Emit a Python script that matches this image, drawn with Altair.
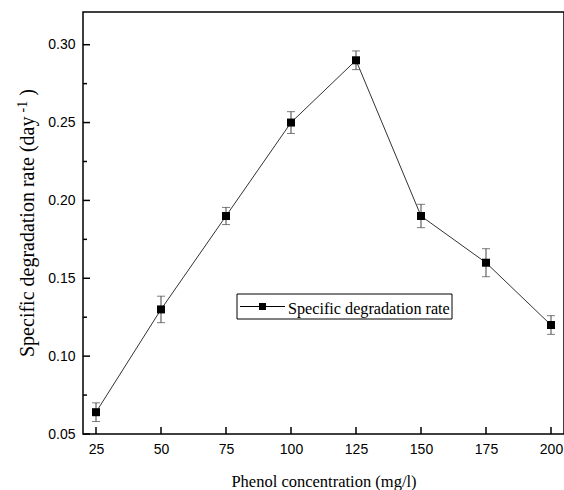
import altair as alt
import pandas as pd

# Specific degradation rate vs. phenol concentration
conc = [25, 50, 75, 100, 125, 150, 175, 200]
rate = [0.064, 0.130, 0.190, 0.250, 0.290, 0.190, 0.160, 0.120]
err = [0.006, 0.0085, 0.0055, 0.007, 0.006, 0.0075, 0.009, 0.006]

x_ticks = [25, 50, 75, 100, 125, 150, 175, 200]
y_major = [0.05, 0.10, 0.15, 0.20, 0.25, 0.30]
y_minor = [0.075, 0.125, 0.175, 0.225, 0.275]

x_title = "Phenol concentration (mg/l)"
y_title_parts = ["Specific degradation rate (day", "-1", ")"]
legend_label = "Specific degradation rate"

W, H = 481, 422
SANS = "Liberation Sans"
SERIF = "Liberation Serif"

df = pd.DataFrame({"conc": conc, "rate": rate})
df["lo"] = [r - e for r, e in zip(rate, err)]
df["hi"] = [r + e for r, e in zip(rate, err)]

xs = alt.Scale(domain=[20, 205], nice=False, zero=False)
ys = alt.Scale(domain=[0.05, 0.321], nice=False, zero=False)

x_axis = alt.Axis(
    values=x_ticks, ticks=False, tickSize=0, domain=False, grid=False,
    labelFont=SANS, labelFontSize=14, labelColor="black", labelPadding=8,
    title=x_title, titleFont=SERIF, titleFontSize=16.5, titleFontWeight="normal",
    titleColor="black", titleBaseline="alphabetic", titleY=52,
)
y_axis = alt.Axis(
    values=y_major, format=".2f", ticks=False, tickSize=0, domain=False, grid=False,
    labelFont=SANS, labelFontSize=14, labelColor="black", labelPadding=8,
    title=None,
)

X = alt.X("conc:Q", scale=xs, axis=x_axis)
Y = alt.Y("rate:Q", scale=ys, axis=y_axis)

base = alt.Chart(df)
line = base.mark_line(color="#333333", strokeWidth=1).encode(x=X, y=Y)
bars = base.mark_errorbar(
    ticks={"size": 8, "color": "#444444"}, rule={"color": "#444444", "strokeWidth": 1}
).encode(x=X, y=alt.Y("lo:Q", scale=ys, axis=y_axis), y2="hi:Q")
pts = base.mark_square(size=64, color="black", opacity=1).encode(x=X, y=Y)

# inward-pointing axis ticks
xt = alt.Chart(pd.DataFrame({"conc": x_ticks})).mark_rule(color="black", strokeWidth=1.5).encode(
    x=X, y=alt.value(H), y2=alt.value(H - 7))
yt = alt.Chart(pd.DataFrame({"rate": y_major})).mark_rule(color="black", strokeWidth=1.5).encode(
    y=Y, x=alt.value(0), x2=alt.value(7))
ym = alt.Chart(pd.DataFrame({"rate": y_minor})).mark_rule(color="black", strokeWidth=1.5).encode(
    y=Y, x=alt.value(0), x2=alt.value(4))

# rotated y-axis title with a superscript
F, S = 20, 14
y0 = 345
main_len = 12.024 * F
y_sup = y0 - main_len - 4
y_par = y_sup - 0.833 * S - 0.25 * F
t_main = alt.Chart(pd.DataFrame({"t": [y_title_parts[0]]})).mark_text(
    angle=270, align="left", baseline="alphabetic", font=SERIF, fontSize=F, color="black"
).encode(text="t:N", x=alt.value(-49), y=alt.value(y0))
t_sup = alt.Chart(pd.DataFrame({"t": [y_title_parts[1]]})).mark_text(
    angle=270, align="left", baseline="alphabetic", font=SERIF, fontSize=S, color="black"
).encode(text="t:N", x=alt.value(-56), y=alt.value(y_sup))
t_par = alt.Chart(pd.DataFrame({"t": [y_title_parts[2]]})).mark_text(
    angle=270, align="left", baseline="alphabetic", font=SERIF, fontSize=F, color="black"
).encode(text="t:N", x=alt.value(-49), y=alt.value(y_par))

# legend box
lg = alt.Chart(pd.DataFrame({"t": [legend_label]}))
lg_box = lg.mark_rect(fill="white", stroke="black", strokeWidth=1).encode(
    x=alt.value(154), x2=alt.value(369), y=alt.value(282), y2=alt.value(307))
lg_line = lg.mark_rule(color="black", strokeWidth=1).encode(
    x=alt.value(157), x2=alt.value(202), y=alt.value(294.5))
lg_sym = lg.mark_square(size=49, color="black", opacity=1).encode(
    x=alt.value(179.5), y=alt.value(294.5))
lg_txt = lg.mark_text(align="left", baseline="alphabetic", font=SERIF, fontSize=16.2, color="black").encode(
    text="t:N", x=alt.value(205), y=alt.value(302))

chart = alt.layer(
    line, bars, pts, xt, yt, ym, t_main, t_sup, t_par, lg_box, lg_line, lg_sym, lg_txt
).properties(
    width=W, height=H,
    padding={"left": 83, "top": 12, "right": 0, "bottom": 56},
    autosize=alt.AutoSizeParams(type="none"),
).configure_view(stroke="black", strokeWidth=1.5)

chart.save("out.html", embed_options={"renderer": "svg", "actions": False})
